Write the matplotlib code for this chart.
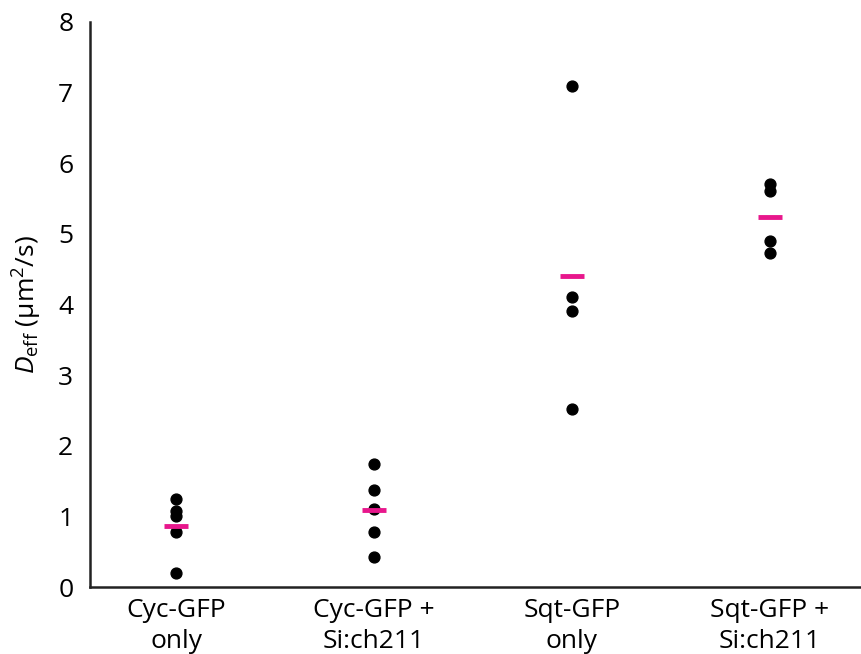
import numpy as np
import matplotlib.pyplot as plt

plt.rcParams['font.family'] = ['Open Sans', 'DejaVu Sans']
plt.rcParams['mathtext.fontset'] = 'custom'
plt.rcParams['mathtext.rm'] = 'Open Sans'
plt.rcParams['mathtext.it'] = 'Open Sans:italic'

groups = ['Cyc-GFP\nonly', 'Cyc-GFP +\nSi:ch211', 'Sqt-GFP\nonly', 'Sqt-GFP +\nSi:ch211']
cyc_only = [1.24, 1.07, 1.00, 0.78, 0.20]
cyc_si = [1.74, 1.38, 1.10, 0.78, 0.43]
sqt_only = [7.10, 4.11, 3.91, 2.52]
sqt_si = [5.71, 5.60, 4.90, 4.73]
values = [cyc_only, cyc_si, sqt_only, sqt_si]
means = [0.86, 1.09, 4.41, 5.24]

fig = plt.figure(figsize=(8.61, 6.54), dpi=100)
ax = fig.add_axes([0.1045, 0.1024, 0.8955, 0.864])

for i, v in enumerate(values):
    ax.plot([i] * len(v), v, 'o', color='black', markersize=7.8, zorder=2)
ax.plot(range(len(means)), means, '_', color='#e8178c', markersize=17.5, mew=3.5, zorder=3)

ax.set_xlim(-0.435, 3.46)
ax.set_ylim(0, 8)
ax.set_xticks(range(len(groups)))
ax.set_xticklabels(groups, fontsize=19, linespacing=1.3)
ax.set_yticks(range(0, 9))
ax.tick_params(axis='both', length=0, labelsize=19)
ax.tick_params(axis='y', pad=12)
ax.tick_params(axis='x', pad=8)
ax.set_ylabel(r'$\mathit{D}_{\mathrm{eff}}$ (µm$^{2}$/s)', fontsize=19, labelpad=10)

for s in ['top', 'right']:
    ax.spines[s].set_visible(False)
for s in ['left', 'bottom']:
    ax.spines[s].set_linewidth(1.8)
    ax.spines[s].set_color('#222222')

fig.savefig('out.png', dpi=100)
